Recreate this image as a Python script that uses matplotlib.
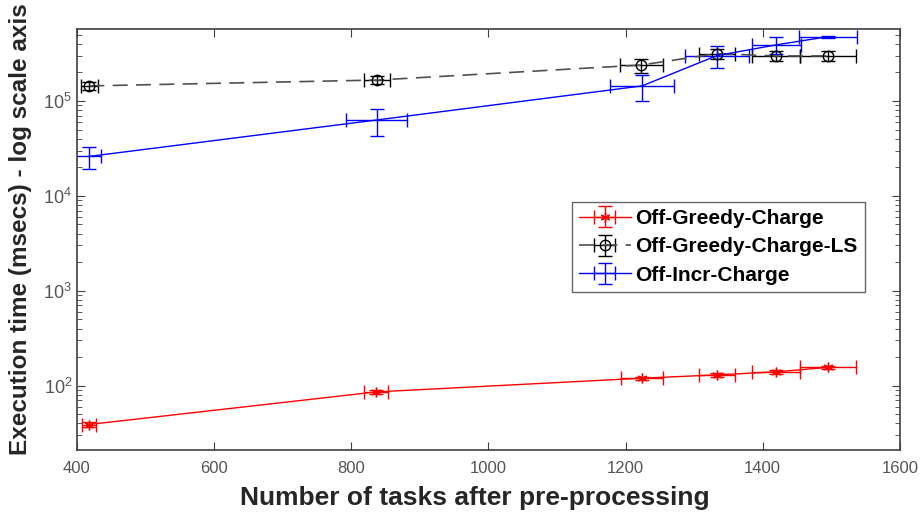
import numpy as np
import matplotlib
matplotlib.use("Agg")
import matplotlib.pyplot as plt
from matplotlib.ticker import LogLocator, NullFormatter

plt.rcParams['font.family'] = ['Liberation Sans', 'DejaVu Sans']
plt.rcParams['mathtext.fontset'] = 'custom'
plt.rcParams['mathtext.rm'] = 'Liberation Sans'

# Off-Greedy-Charge
greedy_x = [417, 836, 1224, 1333, 1419, 1495]
greedy_xerr = [10, 18, 31, 26, 35, 41]
greedy_y = [39, 86, 120, 130, 140, 156]
greedy_yerr = [2, 4, 5, 5, 6, 7]

# Off-Greedy-Charge-LS
ls_x = [418, 838, 1223, 1333, 1420, 1495]
ls_xerr = [12, 19, 31, 26, 35, 41]
ls_y = [1.44e5, 1.66e5, 2.39e5, 3.15e5, 2.98e5, 2.98e5]
ls_yerr = [1.5e4, 1.5e4, 4.0e4, 4.0e4, 3.5e4, 3.5e4]

# Off-Incr-Charge
incr_x = [417, 837, 1224, 1333, 1420, 1495]
incr_xerr = [18, 44, 46, 47, 36, 42]
incr_y = [2.6e4, 6.3e4, 1.44e5, 3.0e5, 3.9e5, 4.75e5]
incr_yerr = [7.0e3, 2.0e4, 4.3e4, 8.0e4, 8.0e4, 1.0e4]

fig = plt.figure(figsize=(9.22, 5.12), dpi=100)
ax = fig.add_axes([0.0835, 0.121, 0.8925, 0.822])

ax.errorbar(greedy_x, greedy_y, xerr=greedy_xerr, yerr=greedy_yerr, color='red',
            marker=(6, 2, 0), markersize=7, linewidth=1, elinewidth=1, capsize=5,
            label='Off-Greedy-Charge')
ls_plot = ax.errorbar(ls_x, ls_y, xerr=ls_xerr, yerr=ls_yerr, color='black',
                      ecolor='black', marker='o', markersize=7.5, markerfacecolor='none',
                      linewidth=1.2, elinewidth=1, capsize=5,
                      label='Off-Greedy-Charge-LS')
ax.errorbar(incr_x, incr_y, xerr=incr_xerr, yerr=incr_yerr, color='blue',
            linewidth=1, elinewidth=1, capsize=5, label='Off-Incr-Charge')

# dashed grey connecting line for the LS series
ls_line = ls_plot.lines[0]
ls_line.set_linestyle((0, (9, 5)))
ls_line.set_color('#505050')
ls_line.set_markeredgecolor('black')

ax.set_yscale('log')
ax.set_xlim(400, 1600)
ax.set_ylim(21, 5.7e5)
ax.set_xticks([400, 600, 800, 1000, 1200, 1400, 1600])
ax.yaxis.set_major_locator(LogLocator(base=10, numticks=10))
ax.yaxis.set_minor_locator(LogLocator(base=10, subs=np.arange(2, 10), numticks=10))
ax.yaxis.set_minor_formatter(NullFormatter())

axis_col = '#404040'
for s in ax.spines.values():
    s.set_color(axis_col)
    s.set_linewidth(1.2)
ax.tick_params(axis='both', which='both', direction='in', top=True, right=True,
               colors=axis_col, labelcolor='#555555', labelsize=12)
ax.tick_params(which='major', length=6)
ax.tick_params(which='minor', length=3.5)
ax.tick_params(axis='x', pad=8)
ax.tick_params(axis='y', labelsize=13)

ax.set_xlabel('Number of tasks after pre-processing', fontsize=19, fontweight='bold',
              color='#262626', labelpad=5)
ax.xaxis.set_label_coords(0.483, -0.085)
ax.set_ylabel('Execution time (msecs) - log scale axis', fontsize=17.5, fontweight='bold',
              color='#262626', labelpad=2)
ax.yaxis.set_label_coords(-0.055, 0.525)

leg = ax.legend(loc='upper left', bbox_to_anchor=(0.601, 0.59),
                prop={'weight': 'bold', 'size': 15}, frameon=True, fancybox=False,
                borderpad=0.35, handlelength=2.5, handletextpad=0.2, labelspacing=0.45,
                borderaxespad=0)
leg.get_frame().set_edgecolor('#404040')
leg.get_frame().set_linewidth(1)

fig.savefig('out.png', dpi=100)
